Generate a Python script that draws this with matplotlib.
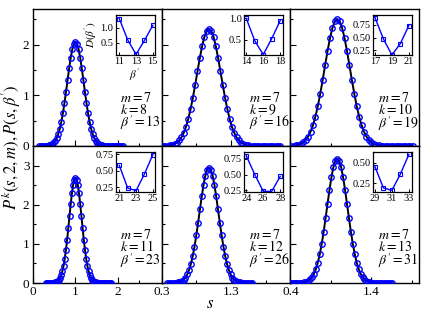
import numpy as np
import matplotlib.pyplot as plt

plt.rcParams['font.family'] = ['Liberation Serif', 'DejaVu Serif']
plt.rcParams['mathtext.fontset'] = 'stix'

# parameters of the six panels
M_VALUE = 7
K_VALUES = [8, 9, 10, 11, 12, 13]
BETA_BEST = [13, 16, 19, 23, 26, 31]

# sampled distributions P(s): first s value and grid step for each panel
S_START = [0.149, 0.32, 0.41, 0.30, 0.382, 0.404]
S_STEP = [0.037, 0.033, 0.030, 0.028, 0.026, 0.024]

P_K8 = [0.0] * 5 + [
    0.006, 0.011, 0.020, 0.035, 0.060, 0.097, 0.152, 0.232, 0.336, 0.476,
    0.646, 0.847, 1.070, 1.306, 1.535, 1.743, 1.907, 2.013, 2.050, 2.013,
    1.907, 1.743, 1.535, 1.306, 1.070, 0.847, 0.646, 0.476, 0.336, 0.232,
    0.152, 0.097, 0.060, 0.035, 0.020, 0.011, 0.006] + [0.0] * 12
P_K9 = [0.0] * 2 + [
    0.007, 0.012, 0.023, 0.040, 0.067, 0.109, 0.172, 0.261, 0.379, 0.536,
    0.728, 0.954, 1.206, 1.471, 1.730, 1.964, 2.148, 2.268, 2.310, 2.268,
    2.148, 1.964, 1.730, 1.471, 1.206, 0.954, 0.728, 0.536, 0.379, 0.261,
    0.172, 0.109, 0.067, 0.040, 0.023, 0.012, 0.007] + [0.0] * 13
P_K10 = [0.0] * 1 + [
    0.007, 0.014, 0.025, 0.043, 0.073, 0.118, 0.186, 0.283, 0.410, 0.580,
    0.788, 1.033, 1.305, 1.593, 1.873, 2.125, 2.325, 2.455, 2.500, 2.455,
    2.325, 2.125, 1.873, 1.593, 1.305, 1.033, 0.788, 0.580, 0.410, 0.283,
    0.186, 0.118, 0.073, 0.043, 0.025, 0.014, 0.007] + [0.0] * 13
P_K11 = [0.0] * 7 + [
    0.008, 0.015, 0.026, 0.046, 0.078, 0.127, 0.200, 0.304, 0.441, 0.624,
    0.847, 1.111, 1.404, 1.714, 2.015, 2.287, 2.502, 2.642, 2.690, 2.642,
    2.502, 2.287, 2.015, 1.714, 1.404, 1.111, 0.847, 0.624, 0.441, 0.304,
    0.200, 0.127, 0.078, 0.046, 0.026, 0.015, 0.008] + [0.0] * 12
P_K12 = [0.0] * 5 + [
    0.009, 0.016, 0.029, 0.051, 0.086, 0.140, 0.219, 0.333, 0.484, 0.684,
    0.929, 1.218, 1.540, 1.879, 2.210, 2.508, 2.744, 2.897, 2.950, 2.897,
    2.744, 2.508, 2.210, 1.879, 1.540, 1.218, 0.929, 0.684, 0.484, 0.333,
    0.219, 0.140, 0.086, 0.051, 0.029, 0.016, 0.009] + [0.0] * 6
P_K13 = [0.0] * 6 + [
    0.009, 0.017, 0.031, 0.055, 0.093, 0.150, 0.236, 0.359, 0.522, 0.738,
    1.002, 1.313, 1.660, 2.026, 2.382, 2.703, 2.957, 3.123, 3.180, 3.123,
    2.957, 2.703, 2.382, 2.026, 1.660, 1.313, 1.002, 0.738, 0.522, 0.359,
    0.236, 0.150, 0.093, 0.055, 0.031, 0.017, 0.009] + [0.0] * 10
P_ALL = [P_K8, P_K9, P_K10, P_K11, P_K12, P_K13]

# inset data D(beta')
BETA_K8 = [11, 12, 13, 14, 15]
D_K8 = [1.30, 0.60, 0.12, 0.58, 1.08]
BETA_K9 = [14, 15, 16, 17, 18]
D_K9 = [1.00, 0.48, 0.16, 0.53, 0.95]
BETA_K10 = [17, 18, 19, 20, 21]
D_K10 = [0.90, 0.47, 0.15, 0.38, 0.74]
BETA_K11 = [21, 22, 23, 24, 25]
D_K11 = [0.58, 0.24, 0.20, 0.45, 0.74]
BETA_K12 = [24, 25, 26, 27, 28]
D_K12 = [0.80, 0.50, 0.23, 0.23, 0.47]
BETA_K13 = [29, 30, 31, 32, 33]
D_K13 = [0.45, 0.19, 0.16, 0.36, 0.60]
BETA_ALL = [BETA_K8, BETA_K9, BETA_K10, BETA_K11, BETA_K12, BETA_K13]
D_ALL = [D_K8, D_K9, D_K10, D_K11, D_K12, D_K13]
INSET_YLIM = [(0.10, 1.42), (0.15, 1.08), (0.15, 0.95),
              (0.18, 0.78), (0.22, 0.86), (0.14, 0.63)]
INSET_YTICKS = [[0.5, 1.0], [0.5, 1.0], [0.25, 0.5, 0.75],
                [0.25, 0.5, 0.75], [0.25, 0.5, 0.75], [0.25, 0.5]]

W, H = 423, 315
fig, axes = plt.subplots(2, 3, figsize=(W / 100, H / 100), dpi=100,
                         sharex='col', sharey='row')
fig.subplots_adjust(left=33 / W, right=419 / W, bottom=1 - 283 / H,
                    top=1 - 9 / H, wspace=0, hspace=0)

col_xlim = [(0, 3.03), (0.3, 2.15), (0.4, 1.99)]
col_major = [[0, 1, 2], [0.3, 1.3], [0.4, 1.4]]
col_minor = [[0.5, 1.5, 2.5], [0.8, 1.8], [0.9, 1.9]]
col_labels = [["0", "1", "2"], ["0.3", "1.3"], ["0.4", "1.4"]]

for i, ax in enumerate(axes.flat):
    r, c = divmod(i, 3)
    p = np.array(P_ALL[i])
    s = S_START[i] + S_STEP[i] * np.arange(len(p))
    ax.plot(s, p, '-', color='black', lw=1.4, zorder=2)
    ax.plot(s, p, 'o', mfc='none', mec='#0000ff', ms=3.9, mew=1.0, zorder=3)

    ax.set_xlim(*col_xlim[c])
    ax.set_xticks(col_major[c])
    ax.set_xticklabels(col_labels[c])
    ax.set_xticks(col_minor[c], minor=True)
    if r == 0:
        ax.set_ylim(0, 2.7)
        ax.set_yticks([0, 1, 2])
        ax.set_yticks([0.5, 1.5, 2.5], minor=True)
    else:
        ax.set_ylim(0, 3.5)
        ax.set_yticks([0, 1, 2, 3])
        ax.set_yticks([0.5, 1.5, 2.5], minor=True)
    ax.tick_params(which='both', direction='in', top=False, right=False,
                   labelsize=9.5, width=0.8, pad=2.5)
    ax.tick_params(which='major', length=4)
    ax.tick_params(which='minor', length=2.5)
    for sp in ax.spines.values():
        sp.set_linewidth(1.0)

    label = "$m=%d$\n$k=%d$\n$\\beta^{\\prime}=%d$" % (
        M_VALUE, K_VALUES[i], BETA_BEST[i])
    ax.text(0.68, 0.25, label, transform=ax.transAxes, fontsize=10,
            va='center', ha='left', linespacing=0.76)

    # inset
    x0 = 33 + c * (386 / 3) + 82.5
    y0 = 9 + r * 137 + 6
    iax = fig.add_axes([x0 / W, 1 - (y0 + 40) / H, 39 / W, 40 / H])
    b = BETA_ALL[i]
    iax.plot(b, D_ALL[i], '-s', color='#0000ff', lw=1.0, ms=3.0,
             mfc='none', mew=0.8)
    if c == 0:
        iax.set_xlim(b[0] - 0.45, b[-1] + 0.2)
    else:
        iax.set_xlim(b[0] - 0.25, b[-1] + 0.35)
    iax.set_ylim(*INSET_YLIM[i])
    iax.set_xticks([b[0], b[2], b[4]])
    yt = INSET_YTICKS[i]
    iax.set_yticks(yt)
    if i < 2:
        iax.set_yticklabels(["%.1f" % v for v in yt])
    else:
        iax.set_yticklabels(["%.2f" % v for v in yt])
    iax.tick_params(direction='in', length=2.5, width=0.7, labelsize=7.5,
                    pad=1.5)
    for sp in iax.spines.values():
        sp.set_linewidth(0.9)
    if i == 0:
        iax.set_ylabel(r"$D(\beta^{\prime})$", fontsize=8, labelpad=0.5)
        iax.set_xlabel(r"$\beta^{\prime}$", fontsize=8, labelpad=0.5)

fig.text(0.027, 1 - 147 / H, r"$P^k(s,2,m), P(s,\beta^{\prime})$",
         rotation=90, fontsize=12, ha='center', va='center')
fig.text(210 / W, 1 - 304 / H, r"$s$", fontsize=12, ha='center',
         va='center')

fig.savefig("out.png", dpi=100)
